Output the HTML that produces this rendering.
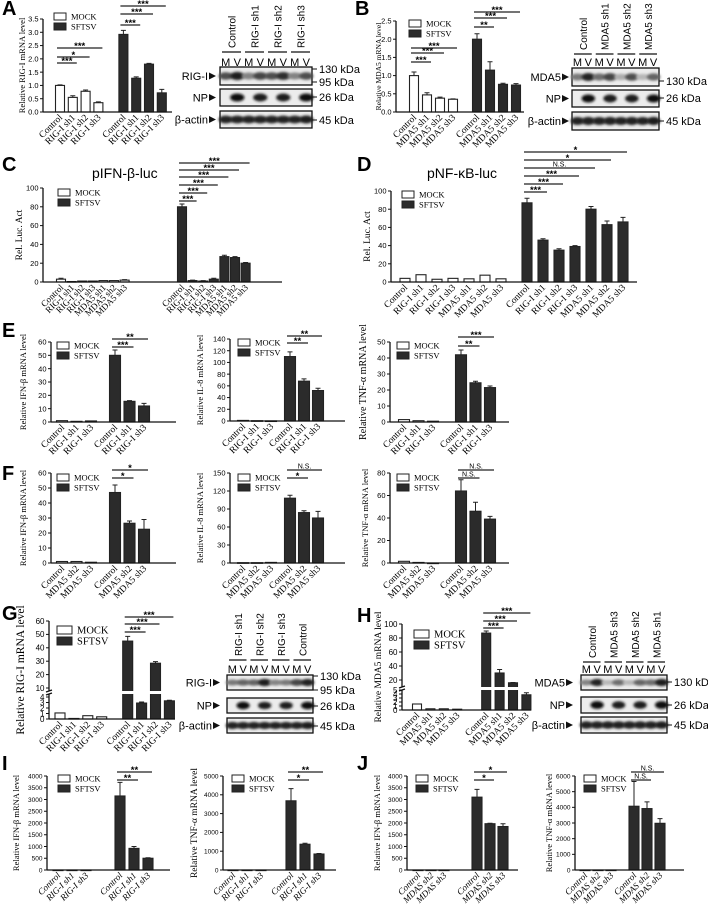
<!DOCTYPE html>
<html><head><meta charset="utf-8"><style>
html,body{margin:0;padding:0;background:#fff;width:708px;height:907px;overflow:hidden}
svg{display:block}
.ser{font-family:"Liberation Serif",serif}
.san{font-family:"Liberation Sans",sans-serif}
</style></head><body>
<svg id="fig" width="708" height="907" viewBox="0 0 708 907" xmlns="http://www.w3.org/2000/svg">
<defs><filter id="blur" x="-30%" y="-80%" width="160%" height="260%"><feGaussianBlur stdDeviation="1.3"/></filter></defs>
<g class="san" font-weight="bold" font-size="20">
<text x="2" y="15">A</text>
<text x="355" y="15">B</text>
<text x="2" y="171">C</text>
<text x="357" y="171">D</text>
<text x="2" y="337">E</text>
<text x="2" y="480">F</text>
<text x="2" y="620">G</text>
<text x="357" y="622">H</text>
<text x="2" y="770">I</text>
<text x="357" y="770">J</text>
</g>
<text class="san" x="92" y="178" font-size="14">pIFN-β-luc</text>
<text class="san" x="427" y="178" font-size="14">pNF-κB-luc</text>
</svg>
<script>
// ---------- data ----------
const A_cats = ['Control','RIG-I sh1','RIG-I sh2','RIG-I sh3'];
const A_mock = [1.0,0.55,0.78,0.35];
const A_mockErr = [0.02,0.06,0.05,0.03];
const A_sftsv = [2.92,1.27,1.8,0.72];
const A_sftsvErr = [0.15,0.05,0.03,0.13];
const A_ticks = [0,0.5,1,1.5,2,2.5,3,3.5];

const B_cats = ['Control','MDA5 sh1','MDA5 sh2','MDA5 sh3'];
const B_mock = [1.0,0.47,0.38,0.35];
const B_mockErr = [0.1,0.06,0.03,0.01];
const B_sftsv = [2.0,1.15,0.76,0.74];
const B_sftsvErr = [0.15,0.23,0.03,0.04];
const B_ticks = [0,0.5,1,1.5,2,2.5];

const CD_cats = ['Control','RIG-I sh1','RIG-I sh2','RIG-I sh3','MDA5 sh1','MDA5 sh2','MDA5 sh3'];
const C_mock = [3,0.5,1,1,1.5,1.5,2];
const C_mockErr = [1,0,0,0,0,0,0.5];
const C_sftsv = [80,1.5,1,3,27,26,20];
const C_sftsvErr = [3,0.5,0.5,1,1.5,1,0.8];
const D_mock = [4,8,3,4,3.5,7.5,3.5];
const D_mockErr = [0,0,0,0,0,0,0];
const D_sftsv = [87,46,35,39,80,63,66];
const D_sftsvErr = [5,1.5,1.5,1,3,4,5];
const CD_ticks = [0,20,40,60,80,100];

const E_cats = ['Control','RIG-I sh1','RIG-I sh3'];
const E1_mock = [1,0.5,0.8];
const E1_sftsv = [50,15.5,12];
const E1_sftsvErr = [4,0.5,2];
const E1_ticks = [0,10,20,30,40,50,60];
const E2_mock = [1,0.5,0.2];
const E2_sftsv = [110,68,52];
const E2_sftsvErr = [8,4,4];
const E2_ticks = [0,20,40,60,80,100,120,140];
const E3_mock = [1.5,0.8,0.5];
const E3_sftsv = [42,24.5,21.5];
const E3_sftsvErr = [3,1,1];
const E3_ticks = [0,10,20,30,40,50];

const F_cats = ['Control','MDA5 sh2','MDA5 sh3'];
const F1_mock = [1,1,0.5];
const F1_sftsv = [47,26.5,22.5];
const F1_sftsvErr = [5,1.5,6.5];
const F1_ticks = [0,10,20,30,40,50,60];
const F2_mock = [0.5,0.5,1];
const F2_sftsv = [108,84,75];
const F2_sftsvErr = [5,3,11];
const F2_ticks = [0,30,60,90,120,150];
const F3_mock = [1.5,0.5,0];
const F3_sftsv = [64,46,39];
const F3_sftsvErr = [10,8,2.5];
const F3_ticks = [0,20,40,60,80];

const G_cats = ['Control','RIG-I sh1','RIG-I sh2','RIG-I sh3'];
const G_mock = [1.1,0.1,0.6,0.4];
const G_sftsv = [45,2.9,28.5,3.3];
const G_sftsvErr = [3.5,0.2,1.2,0.1];
const G_ticks = [0,1,2,3,4,10,20,30,40,50,60];

const H_cats = ['Control','MDA5 sh1','MDA5 sh2','MDA5 sh3'];
const H_mock = [1.5,0.3,0.3,0.2];
const H_sftsv = [87,30,16,3.8];
const H_sftsvErr = [3,5,0.5,0.5];
const H_ticks = [0,1,2,3,4,5,20,40,60,80,100];

const I_cats = ['Control','RIG-I sh1','RIG-I sh3'];
const I1_mock = [0,0,0];
const I1_sftsv = [3150,920,500];
const I1_sftsvErr = [580,80,20];
const I1_ticks = [0,500,1000,1500,2000,2500,3000,3500,4000];
const I2_mock = [0,0,0];
const I2_sftsv = [3680,1370,850];
const I2_sftsvErr = [650,50,30];
const I2_ticks = [0,1000,2000,3000,4000,5000];
const J_cats = ['Control','MDAS sh2','MDAS sh3'];
const J1_mock = [0,0,0];
const J1_sftsv = [3100,1970,1850];
const J1_sftsvErr = [330,20,120];
const J1_ticks = [0,500,1000,1500,2000,2500,3000,3500,4000];
const J2_mock = [0,0,0];
const J2_sftsv = [4070,3920,2980];
const J2_sftsvErr = [1580,430,300];
const J2_ticks = [0,1000,2000,3000,4000,5000,6000];

// ---------- helpers ----------
const NS = 'http://www.w3.org/2000/svg';
const svg = document.getElementById('fig');
function el(tag, attrs, parent) {
  const e = document.createElementNS(NS, tag);
  for (const k in attrs) e.setAttribute(k, attrs[k]);
  (parent || svg).appendChild(e);
  return e;
}
function txt(parent, x, y, s, attrs) {
  const t = el('text', Object.assign({x: x, y: y}, attrs || {}), parent);
  t.textContent = s;
  return t;
}

function makeScale(c) {
  if (c.segs) {
    return function (v) {
      const lo = c.segs[0], hi = c.segs[1];
      if (v <= lo.v1) return lo.p0 + (v - lo.v0) / (lo.v1 - lo.v0) * (lo.p1 - lo.p0);
      if (v < hi.v0) return lo.p1 + (v - lo.v1) / (hi.v0 - lo.v1) * (hi.p0 - lo.p1);
      return hi.p0 + (v - hi.v0) / (hi.v1 - hi.v0) * (hi.p1 - hi.p0);
    };
  }
  return function (v) { return c.y0 - v / c.max * (c.y0 - c.yTop); };
}

function drawChart(c) {
  const g = el('g', {class: 'ser'});
  
  
  const ys = makeScale(c);
  const n = c.cats.length;
  const fs = c.fs || 7.5;
  const cx = function (gi, i) { return c.ms + i * c.sp + (gi ? (n - 1) * c.sp + c.gap : 0); };
  [0, 1].forEach(function (gi) {
    const vals = gi ? c.sftsv : c.mock;
    const errs = gi ? c.sftsvErr : c.mockErr;
    for (let i = 0; i < n; i++) {
      const x = cx(gi, i), y = ys(vals[i]);
      const r = el('rect', {x: x - c.bw / 2, y: y, width: c.bw, height: Math.max(c.y0 - y, 0.6),
        fill: gi ? '#2b2b2b' : '#fff', stroke: '#222', 'stroke-width': 1.1}, g);
      
      
      if (errs && errs[i] > 0) {
        const ye = ys(vals[i] + errs[i]);
        const eb = el('path', {d: 'M' + x + ' ' + y + 'V' + ye + 'M' + (x - 2.5) + ' ' + ye + 'H' + (x + 2.5),
          stroke: '#222', 'stroke-width': 1, fill: 'none'}, g);
        
        
      }
    }
  });
  if (c.segs) {
    const mid = (c.segs[1].p0 + c.segs[0].p1) / 2;
    const s = el('rect', {x: c.x0 + 1, y: mid - 1.5, width: c.x1 - c.x0, height: 3, fill: '#fff'}, g);
    
    
  }
  const xa = el('line', {x1: c.x0, y1: c.y0, x2: c.x1, y2: c.y0, stroke: '#111', 'stroke-width': 1.3}, g);
  
  
  let yd;
  if (c.segs) {
    const lo = c.segs[0], hi = c.segs[1];
    const mid = (hi.p0 + lo.p1) / 2;
    yd = 'M' + c.x0 + ' ' + c.y0 + 'V' + (mid + 1.5) + 'M' + c.x0 + ' ' + (mid - 1.5) + 'V' + hi.p1 +
      'M' + (c.x0 - 3) + ' ' + (mid + 2.5) + 'L' + (c.x0 + 3) + ' ' + (mid + 0.5) +
      'M' + (c.x0 - 3) + ' ' + (mid - 0.5) + 'L' + (c.x0 + 3) + ' ' + (mid - 2.5);
  } else {
    yd = 'M' + c.x0 + ' ' + c.y0 + 'V' + c.yTop;
  }
  const ya = el('path', {d: yd, stroke: '#111', 'stroke-width': 1.3, fill: 'none'}, g);
  
  
  c.ticks.forEach(function (t) {
    const y = ys(t);
    const tl = el('line', {x1: c.x0 - 3, y1: y, x2: c.x0, y2: y, stroke: '#111', 'stroke-width': 1}, g);
    
    
    const tt = txt(g, c.x0 - 4.5, y + fs * 0.35, c.fmt ? c.fmt(t) : String(t), {'font-size': fs, 'text-anchor': 'end', class: 'san'});
    
    
  });
  const ym = (c.y0 + (c.segs ? c.segs[1].p1 : c.yTop)) / 2;
  const yt = txt(g, c.tx, ym, c.yTitle, {'font-size': c.tfs || 8.5, 'text-anchor': 'middle', transform: 'rotate(-90 ' + c.tx + ' ' + ym + ')'});
  
  
  [0, 1].forEach(function (gi) {
    for (let i = 0; i < n; i++) {
      const x = cx(gi, i) + 3, y = c.y0 + 6;
      const lt = txt(g, x, y, c.cats[i], {'font-size': c.lfs || 9.5, 'text-anchor': 'end',
        transform: 'rotate(-45 ' + x + ' ' + y + ')', 'font-style': c.italic ? 'italic' : 'normal'});
      
      
    }
  });
  const L = c.leg, lw = c.legW || 12, lh = c.legH || 7, lfs = c.legFs || 8.5, dy = c.legDy || 10;
  ['MOCK', 'SFTSV'].forEach(function (s, k) {
    const b = el('rect', {x: L.x, y: L.y + k * dy, width: lw, height: lh, fill: k ? '#2b2b2b' : '#fff', stroke: '#222', 'stroke-width': 1}, g);
    
    
    const lt = txt(g, L.x + lw + 5, L.y + k * dy + lh - 0.5, s, {'font-size': lfs});
    
    
  });
  (c.sig || []).forEach(function (s) {
    const xa0 = cx(s.g, 0) - 3, xa1 = cx(s.g, s.to) + 4;
    const sl = el('line', {x1: xa0, y1: s.y, x2: xa1, y2: s.y, stroke: '#222', 'stroke-width': 1.2}, g);
    
    
    const isNS = s.t === 'N.S.';
    const st = txt(g, (xa0 + xa1) / 2, s.y - (isNS ? 1.5 : -1), s.t, {'font-size': isNS ? 7 : 9.5, 'text-anchor': 'middle', 'font-weight': isNS ? 'normal' : 'bold', class: 'san'});
    
    
  });
}

function drawBlot(b) {
  const g = el('g', {class: 'san'});
  
  
  const lane = b.w / 8;
  b.lanes.forEach(function (s, k) {
    const lx = b.x + (2 * k + 1) * lane;
    const t = txt(g, lx + 4, b.labBot, s, {'font-size': 10, transform: 'rotate(-90 ' + (lx + 4) + ' ' + b.labBot + ')'});
    
    
    const u = el('line', {x1: lx - lane + 2, y1: b.ul, x2: lx + lane - 2, y2: b.ul, stroke: '#111', 'stroke-width': 1.2}, g);
    
    
    const m = txt(g, lx - lane / 2, b.mv, 'M', {'font-size': 11, 'text-anchor': 'middle'});
    
    
    const v = txt(g, lx + lane / 2, b.mv, 'V', {'font-size': 11, 'text-anchor': 'middle'});
    
    
  });
  b.rows.forEach(function (r) {
    const bx = el('rect', {x: b.x, y: r.y, width: b.w, height: r.h, fill: '#ececec', stroke: '#111', 'stroke-width': 1.3}, g);
    
    
    r.bands.forEach(function (a, i) {
      if (a <= 0) return;
      const c = Math.round(225 - 210 * a);
      const e = el('ellipse', {cx: b.x + (i + 0.5) * lane, cy: r.y + r.h / 2, rx: lane * 0.62, ry: r.h * 0.16 + a * 1.3,
        fill: 'rgb(' + c + ',' + c + ',' + c + ')', filter: 'url(#blur)'}, g);
      
      
    });
    const lt = txt(g, b.labX, r.y + r.h / 2 + 4, r.label, {'font-size': 11, 'text-anchor': 'end'});
    
    
    const ar = el('path', {d: 'M' + (b.labX + 1) + ' ' + (r.y + r.h / 2 - 3.5) + 'L' + (b.labX + 8) + ' ' + (r.y + r.h / 2) + 'L' + (b.labX + 1) + ' ' + (r.y + r.h / 2 + 3.5) + 'Z', fill: '#111'}, g);
    
    
  });
  b.kda.forEach(function (k) {
    const tk = el('line', {x1: b.x + b.w, y1: k.y, x2: b.x + b.w + 5, y2: k.y, stroke: '#111', 'stroke-width': 1}, g);
    
    
    const t = txt(g, b.x + b.w + 7, k.y + 4, k.t, {'font-size': 11});
    
    
  });
}

const f1 = function (t) { return t.toFixed(1); };

drawChart({name:'chart-a', x0:43, x1:172, y0:112, yTop:19, max:3.5, ticks:A_ticks, fmt:f1, ms:60, sp:12.8, gap:25, bw:9,
  cats:A_cats, mock:A_mock, mockErr:A_mockErr, sftsv:A_sftsv, sftsvErr:A_sftsvErr, yTitle:'Relative RIG-I mRNA level', tx:25,
  leg:{x:54,y:13}, sig:[{g:0,to:1,y:63,t:'***'},{g:0,to:2,y:57,t:'*'},{g:0,to:3,y:48,t:'***'},{g:1,to:1,y:25,t:'***'},{g:1,to:2,y:14,t:'***'},{g:1,to:3,y:6,t:'***'}]});
drawChart({name:'chart-b', x0:396, x1:524, y0:112, yTop:21, max:2.5, ticks:B_ticks, fmt:f1, ms:414, sp:13, gap:24, bw:9,
  cats:B_cats, mock:B_mock, mockErr:B_mockErr, sftsv:B_sftsv, sftsvErr:B_sftsvErr, yTitle:'Relative MDA5 mRNA level', tx:381, tfs:7.5,
  leg:{x:409,y:20}, sig:[{g:0,to:1,y:62,t:'***'},{g:0,to:2,y:53,t:'***'},{g:0,to:3,y:48,t:'***'},{g:1,to:1,y:27,t:'**'},{g:1,to:2,y:18,t:'***'},{g:1,to:3,y:12,t:'***'}]});
drawChart({name:'chart-c', x0:43, x1:282, y0:282, yTop:188, max:100, ticks:CD_ticks, ms:61, sp:10.6, gap:57.4, bw:9, lfs:9,
  cats:CD_cats, mock:C_mock, mockErr:C_mockErr, sftsv:C_sftsv, sftsvErr:C_sftsvErr, yTitle:'Rel. Luc. Act', tx:22, tfs:9.5,
  leg:{x:58,y:189}, sig:[{g:1,to:1,y:201,t:'***'},{g:1,to:2,y:193,t:'***'},{g:1,to:3,y:185,t:'***'},{g:1,to:4,y:177,t:'***'},{g:1,to:5,y:170,t:'***'},{g:1,to:6,y:163,t:'***'}]});
drawChart({name:'chart-d', x0:391, x1:637, y0:282, yTop:191, max:100, ticks:CD_ticks, ms:405, sp:16, gap:26, bw:10,
  cats:CD_cats, mock:D_mock, mockErr:D_mockErr, sftsv:D_sftsv, sftsvErr:D_sftsvErr, yTitle:'Rel. Luc. Act', tx:370, tfs:9.5,
  leg:{x:402,y:191}, sig:[{g:1,to:1,y:192,t:'***'},{g:1,to:2,y:184,t:'***'},{g:1,to:3,y:176,t:'***'},{g:1,to:4,y:168,t:'N.S.'},{g:1,to:5,y:160,t:'*'},{g:1,to:6,y:152,t:'*'}]});

drawChart({name:'chart-e-ifnb', x0:51, x1:176, y0:422, yTop:342, max:60, ticks:E1_ticks, ms:62, sp:14.5, gap:24, bw:11,
  cats:E_cats, mock:E1_mock, sftsv:E1_sftsv, sftsvErr:E1_sftsvErr, yTitle:'Relative IFN-β mRNA level', tx:26,
  leg:{x:57,y:342}, sig:[{g:1,to:1,y:347,t:'***'},{g:1,to:2,y:339,t:'**'}]});
drawChart({name:'chart-e-il8', x0:230, x1:345, y0:421, yTop:339, max:140, ticks:E2_ticks, ms:243, sp:14, gap:19, bw:11,
  cats:E_cats, mock:E2_mock, sftsv:E2_sftsv, sftsvErr:E2_sftsvErr, yTitle:'Relative IL-8 mRNA level', tx:203,
  leg:{x:238,y:339}, sig:[{g:1,to:1,y:343,t:'**'},{g:1,to:2,y:336,t:'**'}]});
drawChart({name:'chart-e-tnfa', x0:390, x1:509, y0:422, yTop:342, max:50, ticks:E3_ticks, ms:404, sp:14.5, gap:28, bw:11,
  cats:E_cats, mock:E3_mock, sftsv:E3_sftsv, sftsvErr:E3_sftsvErr, yTitle:'Relative TNF-α mRNA level', tx:366, tfs:10,
  leg:{x:397,y:342}, sig:[{g:1,to:1,y:346,t:'**'},{g:1,to:2,y:337,t:'***'}]});

drawChart({name:'chart-f-ifnb', x0:51, x1:176, y0:563, yTop:473, max:60, ticks:F1_ticks, ms:62, sp:14.5, gap:24, bw:11,
  cats:F_cats, mock:F1_mock, sftsv:F1_sftsv, sftsvErr:F1_sftsvErr, yTitle:'Relative IFN-β mRNA level', tx:26,
  leg:{x:57,y:474}, sig:[{g:1,to:1,y:478,t:'*'},{g:1,to:2,y:470,t:'*'}]});
drawChart({name:'chart-f-il8', x0:230, x1:345, y0:563, yTop:473, max:150, ticks:F2_ticks, ms:243, sp:14, gap:19, bw:11,
  cats:F_cats, mock:F2_mock, sftsv:F2_sftsv, sftsvErr:F2_sftsvErr, yTitle:'Relative IL-8 mRNA level', tx:203,
  leg:{x:238,y:474}, sig:[{g:1,to:1,y:478,t:'*'},{g:1,to:2,y:470,t:'N.S.'}]});
drawChart({name:'chart-f-tnfa', x0:390, x1:509, y0:563, yTop:473, max:80, ticks:F3_ticks, ms:404, sp:14.5, gap:28, bw:11,
  cats:F_cats, mock:F3_mock, sftsv:F3_sftsv, sftsvErr:F3_sftsvErr, yTitle:'Relative TNF-α mRNA level', tx:368,
  leg:{x:397,y:474}, sig:[{g:1,to:1,y:478,t:'N.S.'},{g:1,to:2,y:470,t:'N.S.'}]});

drawChart({name:'chart-g', x0:49, x1:175, y0:719, segs:[{v0:0,v1:4,p0:719,p1:697},{v0:10,v1:60,p0:688,p1:621}], ticks:G_ticks,
  ms:60, sp:13.9, gap:26, bw:10, fs:8, lfs:9.5, cats:G_cats, mock:G_mock, sftsv:G_sftsv, sftsvErr:G_sftsvErr,
  yTitle:'Relative RIG-I mRNA level', tx:24, tfs:11.5, legW:15, legH:8, legFs:10.5, legDy:11,
  leg:{x:57,y:626}, sig:[{g:1,to:1,y:632,t:'***'},{g:1,to:2,y:624,t:'***'},{g:1,to:3,y:617,t:'***'}]});
drawChart({name:'chart-h', x0:402, x1:531, y0:710, segs:[{v0:0,v1:5,p0:710,p1:690},{v0:10,v1:100,p0:687,p1:624}], ticks:H_ticks,
  ms:417, sp:13.4, gap:29, bw:9, fs:8, lfs:9.5, cats:H_cats, mock:H_mock, sftsv:H_sftsv, sftsvErr:H_sftsvErr,
  yTitle:'Relative MDA5 mRNA level', tx:381, tfs:9.5, legW:15, legH:8, legFs:10.5, legDy:11,
  leg:{x:414,y:630}, sig:[{g:1,to:1,y:628,t:'***'},{g:1,to:2,y:621,t:'***'},{g:1,to:3,y:613,t:'***'}]});

drawChart({name:'chart-i-ifnb', x0:47, x1:170, y0:870, yTop:776, max:4000, ticks:I1_ticks, ms:58, sp:14, gap:34, bw:10, fs:6.5, italic:true, lfs:9,
  cats:I_cats, mock:I1_mock, sftsv:I1_sftsv, sftsvErr:I1_sftsvErr, yTitle:'Relative IFN-β mRNA level', tx:19,
  leg:{x:58,y:775}, sig:[{g:1,to:1,y:780,t:'**'},{g:1,to:2,y:772,t:'**'}]});
drawChart({name:'chart-i-tnfa', x0:223, x1:336, y0:870, yTop:776, max:5000, ticks:I2_ticks, ms:233, sp:14, gap:30, bw:10, fs:6.5, italic:true, lfs:9,
  cats:I_cats, mock:I2_mock, sftsv:I2_sftsv, sftsvErr:I2_sftsvErr, yTitle:'Relative TNF-α mRNA level', tx:197, tfs:9.5,
  leg:{x:232,y:775}, sig:[{g:1,to:1,y:780,t:'*'},{g:1,to:2,y:772,t:'**'}]});
drawChart({name:'chart-j-ifnb', x0:407, x1:518, y0:870, yTop:776, max:4000, ticks:J1_ticks, ms:418, sp:13, gap:33, bw:10, fs:6.5, italic:true, lfs:9,
  cats:J_cats, mock:J1_mock, sftsv:J1_sftsv, sftsvErr:J1_sftsvErr, yTitle:'Relative IFN-β mRNA level', tx:380,
  leg:{x:416,y:775}, sig:[{g:1,to:1,y:780,t:'*'},{g:1,to:2,y:772,t:'*'}]});
drawChart({name:'chart-j-tnfa', x0:575, x1:684, y0:870, yTop:776, max:6000, ticks:J2_ticks, ms:585, sp:13, gap:23, bw:10, fs:6.5, italic:true, lfs:9,
  cats:J_cats, mock:J2_mock, sftsv:J2_sftsv, sftsvErr:J2_sftsvErr, yTitle:'Relative TNF-α mRNA level', tx:552,
  leg:{x:584,y:775}, sig:[{g:1,to:1,y:780,t:'N.S.'},{g:1,to:2,y:772,t:'N.S.'}]});

const ALL = [0.9,0.92,0.9,0.92,0.9,0.92,0.9,0.95];
const NPB = [0,1,0,0.95,0,0.95,0,1];
drawBlot({name:'blot-a', x:220, w:92, labX:208, labBot:48, ul:52, mv:66,
  lanes:['Control','RIG-I sh1','RIG-I sh2','RIG-I sh3'],
  rows:[{key:'rig-i',label:'RIG-I',y:67,h:18,bands:[0.7,0.95,0.45,0.75,0.7,0.85,0.45,0.7]},
        {key:'np',label:'NP',y:89,h:17,bands:NPB},
        {key:'actin',label:'β-actin',y:111,h:17,bands:ALL}],
  kda:[{t:'130 kDa',y:69},{t:'95 kDa',y:82},{t:'26 kDa',y:97},{t:'45 kDa',y:120}]});
drawBlot({name:'blot-b', x:572, w:87, labX:561, labBot:50, ul:54, mv:66,
  lanes:['Control','MDA5 sh1','MDA5 sh2','MDA5 sh3'],
  rows:[{key:'mda5',label:'MDA5',y:68,h:18,bands:[0.5,0.9,0.55,0.75,0.25,0.7,0.2,0.6]},
        {key:'np',label:'NP',y:90,h:17,bands:NPB},
        {key:'actin',label:'β-actin',y:112,h:18,bands:ALL}],
  kda:[{t:'130 kDa',y:81},{t:'26 kDa',y:98},{t:'45 kDa',y:121}]});
drawBlot({name:'blot-g', x:227, w:86, labX:212, labBot:656, ul:660, mv:673,
  lanes:['RIG-I sh1','RIG-I sh2','RIG-I sh3','Control'],
  rows:[{key:'rig-i',label:'RIG-I',y:675,h:15,bands:[0.5,0.6,0.6,0.95,0.45,0.5,0.75,0.9]},
        {key:'np',label:'NP',y:698,h:15,bands:NPB},
        {key:'actin',label:'β-actin',y:718,h:15,bands:ALL}],
  kda:[{t:'130 kDa',y:676},{t:'95 kDa',y:690},{t:'26 kDa',y:706},{t:'45 kDa',y:726}]});
drawBlot({name:'blot-h', x:581, w:86, labX:565, labBot:658, ul:662, mv:673,
  lanes:['Control','MDA5 sh3','MDA5 sh2','MDA5 sh1'],
  rows:[{key:'mda5',label:'MDA5',y:675,h:15,bands:[0.45,0.9,0.2,0.55,0.2,0.6,0.55,0.95]},
        {key:'np',label:'NP',y:697,h:16,bands:NPB},
        {key:'actin',label:'β-actin',y:717,h:16,bands:ALL}],
  kda:[{t:'130 kDa',y:682},{t:'26 kDa',y:705},{t:'45 kDa',y:725}]});
</script>
</body></html>
